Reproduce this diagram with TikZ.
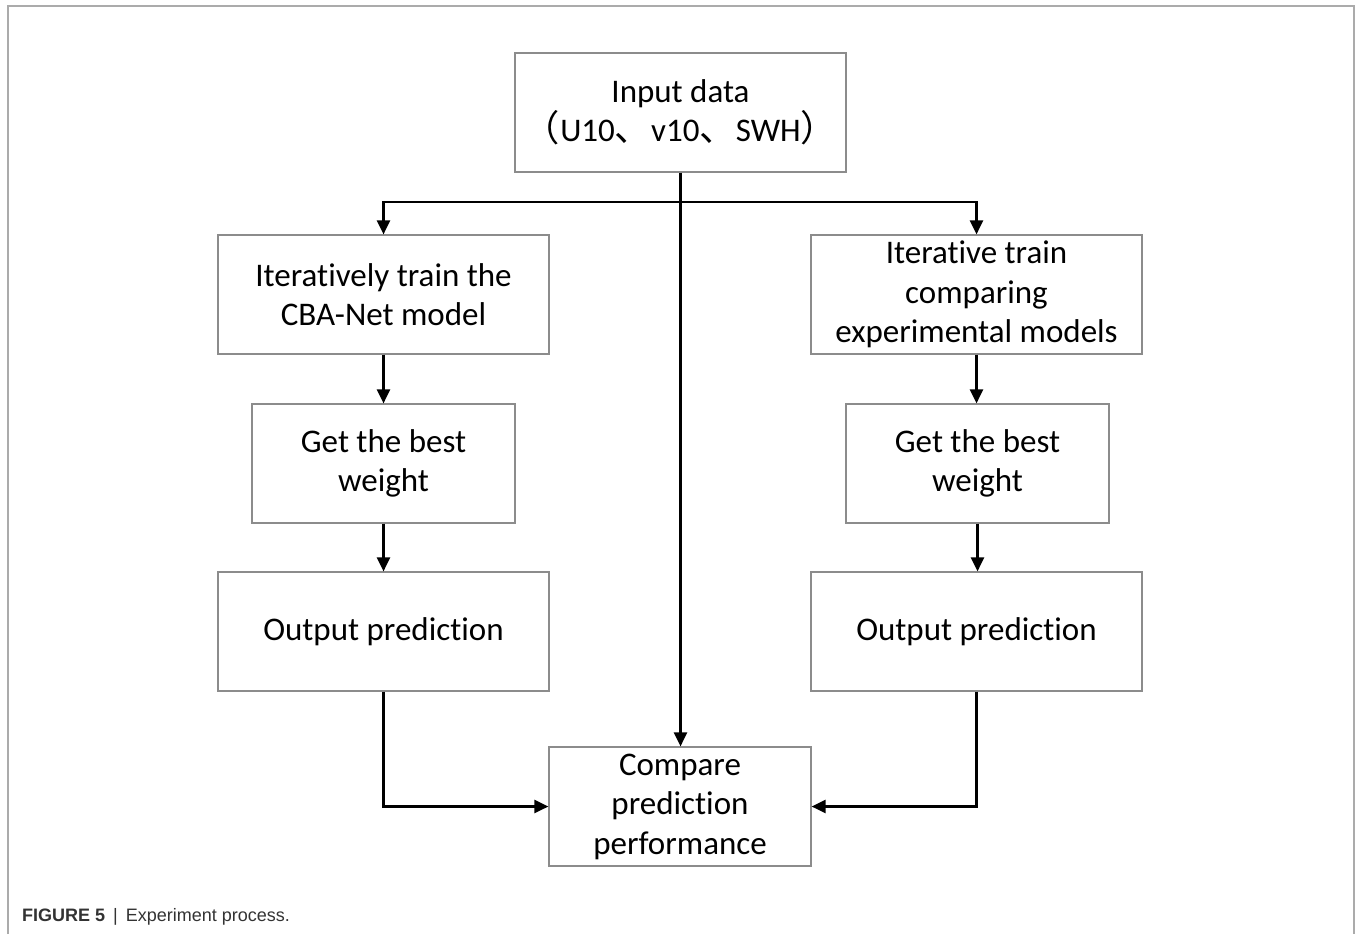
\documentclass[tikz,border=0pt]{standalone}
\usepackage{fontspec}
\setmainfont{Carlito}[Ligatures={NoCommon}]
\newfontfamily\cjk{Noto Sans CJK SC}[Scale=1.1]
\newfontfamily\capfont{Liberation Sans}
\usetikzlibrary{arrows.meta}
\definecolor{boxgray}{HTML}{8C8C8C}
\definecolor{framegray}{HTML}{ABABAB}
\definecolor{captext}{HTML}{333333}
\tikzset{
  box/.style={draw=boxgray, line width=1.2pt, minimum height=119pt, inner sep=0pt,
    align=center, font=\fontsize{33}{39.5}\selectfont, text=black},
  wide/.style={box, minimum width=331pt},
  narrow/.style={box, minimum width=263pt},
  arr/.style={draw=black, line width=2.3pt, -{Triangle[length=14pt,width=13pt]}}
}
\begin{document}
\begin{tikzpicture}[x=1pt,y=-1pt]
\useasboundingbox (0,0) rectangle (1356,934);
\draw[framegray, line width=1.5pt] (8,934) -- (8,6) -- (1354,6) -- (1354,934);
\node[wide] (in) at (680.5,112.5) {Input data\\{\cjk （}U10{\cjk 、}v10{\cjk 、}SWH{\cjk ）}};
\node[wide] (l1) at (383.5,294.5) {Iteratively train the\\CBA-Net model};
\node[wide] (r1) at (976.5,294.5) {Iterative train\\comparing\\experimental models};
\node[narrow] (l2) at (383.5,463.5) {Get the best\\weight};
\node[narrow] (r2) at (977.5,463.5) {Get the best\\weight};
\node[wide] (l3) at (383.5,631.5) {Output prediction};
\node[wide] (r3) at (976.5,631.5) {Output prediction};
\node[box, minimum width=262pt] (cmp) at (680,806.5) {Compare\\prediction\\performance};
\coordinate (j) at (680.5,202);
\draw[arr] (in.south) -- (in.south |- cmp.north);
\draw[arr] (j) -| (l1.north);
\draw[arr] (j) -| (r1.north);
\draw[arr] (l1.south) -- (l1.south |- l2.north);
\draw[arr] (r1.south) -- (r1.south |- r2.north);
\draw[arr] (l2.south) -- (l2.south |- l3.north);
\draw[arr] (r2.south) -- (r2.south |- r3.north);
\draw[arr] (l3.south) |- (cmp.west);
\draw[arr] (r3.south) |- (cmp.east);
\node[anchor=west, inner sep=0pt, text=captext, font=\capfont\fontsize{18}{22}\selectfont] (cap) at (22,917)
  {\textbf{FIGURE 5} \,|\, Experiment process.};
\end{tikzpicture}
\end{document}
